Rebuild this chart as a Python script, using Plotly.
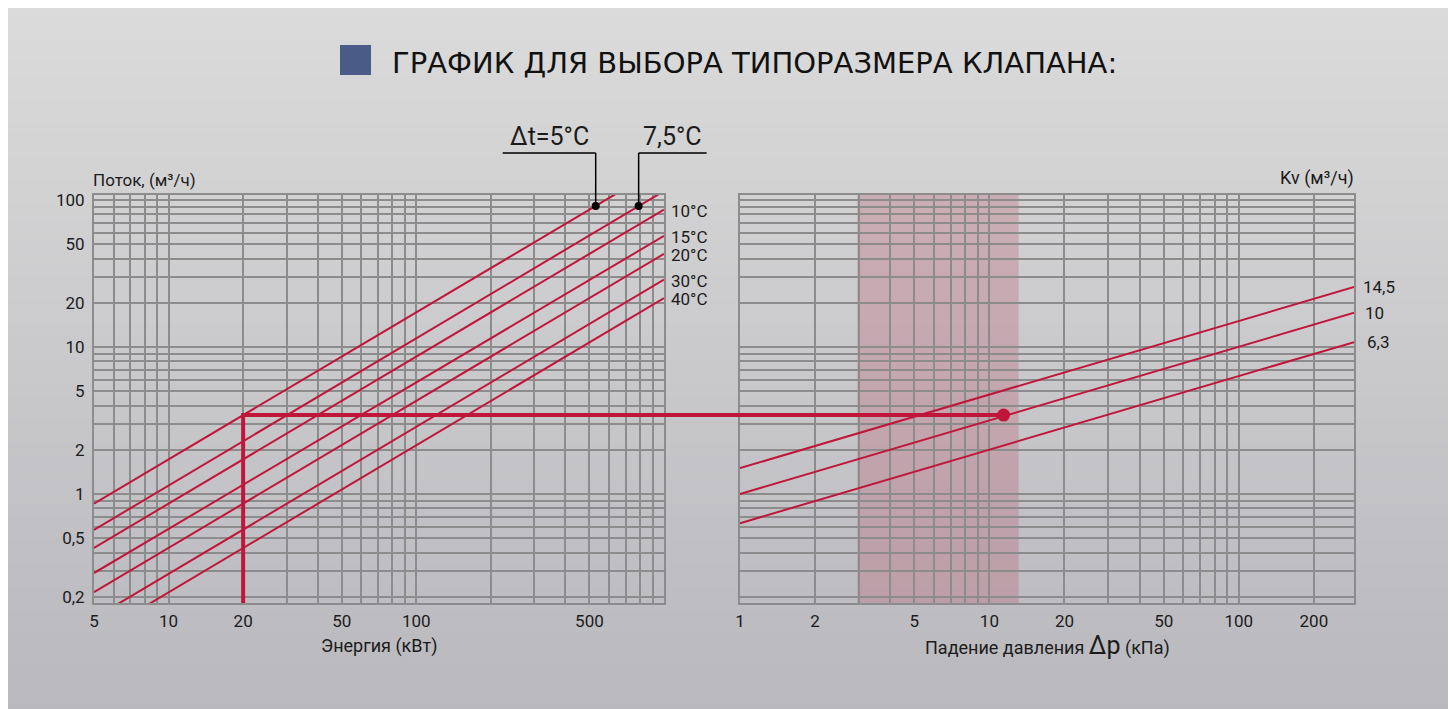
import math
import plotly.graph_objects as go

W, H = 1456, 709
OX, OY = 8, 8  # page margin around the figure in the browser

# ------------------------------------------------------------------ data
energy_ticks = [5, 10, 20, 50, 100, 500]
energy_ticktext = ["5", "10", "20", "50", "100", "500"]
energy_minor = [6, 7, 8, 9, 30, 40, 60, 70, 80, 90, 200, 300, 400, 600, 700, 800, 900]

flow_ticks = [0.2, 0.5, 1, 2, 5, 10, 20, 50, 100]
flow_ticktext = ["0,2", "0,5", "1", "2", "5", "10", "20", "50", "100"]
flow_minor = [0.3, 0.4, 0.6, 0.7, 0.8, 0.9, 3, 4, 6, 7, 8, 9, 30, 40, 60, 70, 80, 90]

dp_ticks = [1, 2, 5, 10, 20, 50, 100, 200]
dp_ticktext = ["1", "2", "5", "10", "20", "50", "100", "200"]
dp_minor = [3, 4, 6, 7, 8, 9, 30, 40, 60, 70, 80, 90]

# temperature-difference lines (left chart): flow at 5 kW and at 1000 kW
dt_labels = ["Δt=5°C", "7,5°C", "10°C", "15°C", "20°C", "30°C", "40°C"]
line_energy = [5, 1000]
flow_at_5kw = [0.86, 0.57, 0.43, 0.29, 0.215, 0.143, 0.107]
flow_at_1000kw = [172, 115, 86, 57, 43, 28.7, 21.5]

# Kv lines (right chart): flow at 1 kPa and at 290 kPa
kv_labels = ["14,5", "10", "6,3"]
line_dp = [1, 290]
kv_flow_at_1kpa = [1.5, 1.0, 0.633]
kv_flow_at_290kpa = [25.6, 17.1, 10.8]

# markers on the 5°C and 7,5°C lines
marker_energy = [530, 790]
marker_flow = [91, 91]

# worked example
example_energy = 20
example_flow = 3.44
example_dp = 11.4

# recommended pressure-drop band
shade_dp = [2.95, 13.1]

# ------------------------------------------------------------------ layout geometry
RED = "#c0163a"
GRID = "#8c8c8c"
TXT = "#1b1b1b"
FONT = "Roboto"


def PX(x):
    return (x - OX) / W


def PY(y):
    return 1 - (y - OY) / H


dom_l = [PX(94), PX(664)]
dom_r = [PX(740), PX(1354)]
dom_y = [PY(603), PY(195)]
xr_l = [math.log10(5), 3.0]
xr_r = [0.0, 2.462]
yr = [-0.7415, 2.034]


def xl_paper(v):
    return dom_l[0] + (math.log10(v) - xr_l[0]) / (xr_l[1] - xr_l[0]) * (dom_l[1] - dom_l[0])


def y_paper(v):
    return dom_y[0] + (math.log10(v) - yr[0]) / (yr[1] - yr[0]) * (dom_y[1] - dom_y[0])


fig = go.Figure()

# left chart lines
for i in range(len(dt_labels)):
    fig.add_trace(go.Scatter(
        x=line_energy, y=[flow_at_5kw[i], flow_at_1000kw[i]], mode="lines",
        line=dict(color=RED, width=2), xaxis="x", yaxis="y",
        hoverinfo="skip", showlegend=False))

# right chart lines
for i in range(len(kv_labels)):
    fig.add_trace(go.Scatter(
        x=line_dp, y=[kv_flow_at_1kpa[i], kv_flow_at_290kpa[i]], mode="lines",
        line=dict(color=RED, width=2), xaxis="x2", yaxis="y2",
        hoverinfo="skip", showlegend=False))

# example path
fig.add_trace(go.Scatter(
    x=[example_energy, example_energy, line_energy[1]],
    y=[10 ** yr[0], example_flow, example_flow], mode="lines",
    line=dict(color=RED, width=4), xaxis="x", yaxis="y",
    hoverinfo="skip", showlegend=False))
fig.add_trace(go.Scatter(
    x=[line_dp[0], example_dp], y=[example_flow, example_flow], mode="lines",
    line=dict(color=RED, width=4), xaxis="x2", yaxis="y2",
    hoverinfo="skip", showlegend=False))
fig.add_trace(go.Scatter(
    x=[example_dp], y=[example_flow], mode="markers",
    marker=dict(color=RED, size=13), xaxis="x2", yaxis="y2",
    hoverinfo="skip", showlegend=False, cliponaxis=False))
# connector across the gap between the charts
fig.add_shape(type="line", xref="paper", yref="paper",
              x0=dom_l[1], x1=dom_r[0], y0=y_paper(example_flow), y1=y_paper(example_flow),
              line=dict(color=RED, width=4), layer="above")

# markers on 5°C and 7,5°C lines
fig.add_trace(go.Scatter(
    x=marker_energy, y=marker_flow, mode="markers",
    marker=dict(color="black", size=8), xaxis="x", yaxis="y",
    hoverinfo="skip", showlegend=False, cliponaxis=False))

# pressure-drop band
fig.add_shape(type="rect", xref="x2", yref="y2", x0=shade_dp[0], x1=shade_dp[1],
              y0=10 ** yr[0], y1=10 ** yr[1], fillcolor="rgba(185,80,105,0.28)",
              line=dict(width=0), layer="below")

# ------------------------------------------------------------------ background gradient
nb = 60
top_c = (219, 219, 219)
bot_c = (184, 184, 189)
x_bg0, x_bg1 = PX(4), PX(1450)
y_bg_top = PY(3)
for k in range(nb):
    t = k / (nb - 1)
    c = tuple(round(top_c[j] + (bot_c[j] - top_c[j]) * t) for j in range(3))
    y1 = y_bg_top - y_bg_top * k / nb
    y0 = y_bg_top - y_bg_top * (k + 1) / nb
    fig.add_shape(type="rect", xref="paper", yref="paper", x0=x_bg0, x1=x_bg1,
                  y0=y0 - 0.002, y1=y1, fillcolor="rgb(%d,%d,%d)" % c,
                  line=dict(width=0), layer="below")

# title square
fig.add_shape(type="rect", xref="paper", yref="paper",
              x0=PX(340), x1=PX(371), y0=PY(75), y1=PY(45),
              fillcolor="#4a5b88", line=dict(width=0), layer="above")

# ------------------------------------------------------------------ annotations
ann = []
ann.append(dict(text="ГРАФИК ДЛЯ ВЫБОРА ТИПОРАЗМЕРА КЛАПАНА:", xref="paper", yref="paper",
                x=PX(390), y=PY(63), xanchor="left", yanchor="middle", showarrow=False,
                font=dict(family="DejaVu Sans", size=29, color="#111")))
ann.append(dict(text="Поток, (м³/ч)", xref="paper", yref="paper", x=PX(91), y=PY(180),
                xanchor="left", yanchor="middle", showarrow=False,
                font=dict(family=FONT, size=17, color=TXT)))
ann.append(dict(text="Kv (м³/ч)", xref="paper", yref="paper", x=PX(1356), y=PY(178),
                xanchor="right", yanchor="middle", showarrow=False,
                font=dict(family=FONT, size=18, color=TXT)))
ann.append(dict(text="Энергия (кВт)", xref="paper", yref="paper",
                x=(dom_l[0] + dom_l[1]) / 2, y=PY(646),
                xanchor="center", yanchor="middle", showarrow=False,
                font=dict(family=FONT, size=18, color=TXT)))
ann.append(dict(text="Падение давления <span style='font-size:25px'>Δp</span> (кПа)",
                xref="paper", yref="paper",
                x=(dom_r[0] + dom_r[1]) / 2, y=PY(645),
                xanchor="center", yanchor="middle", showarrow=False,
                font=dict(family=FONT, size=18, color=TXT)))

for i in range(2, len(dt_labels)):
    ann.append(dict(text=dt_labels[i], xref="x domain", yref="y", x=1,
                    y=math.log10(flow_at_1000kw[i]), xanchor="left", yanchor="middle",
                    xshift=5, yshift=-1, showarrow=False,
                    font=dict(family=FONT, size=17, color=TXT)))
for i in range(len(kv_labels)):
    ann.append(dict(text=kv_labels[i], xref="x2 domain", yref="y2", x=1,
                    y=math.log10(kv_flow_at_290kpa[i]), xanchor="left", yanchor="middle",
                    xshift=7 + 2 * i, showarrow=False,
                    font=dict(family=FONT, size=17, color=TXT)))

# leader lines for Δt=5°C and 7,5°C
y_lead = PY(153)
lead_len = [-93 / W, 68 / W]
for i in range(2):
    xp = xl_paper(marker_energy[i])
    yp = y_paper(marker_flow[i])
    fig.add_shape(type="line", xref="paper", yref="paper", x0=xp, x1=xp, y0=yp, y1=y_lead,
                  line=dict(color="black", width=1.5), layer="above")
    xe = xp + lead_len[i]
    fig.add_shape(type="line", xref="paper", yref="paper", x0=min(xp, xe), x1=max(xp, xe),
                  y0=y_lead, y1=y_lead, line=dict(color="black", width=1.5), layer="above")
    ann.append(dict(text=dt_labels[i], xref="paper", yref="paper", x=(xp + xe) / 2,
                    y=y_lead, xanchor="center", yanchor="bottom", yshift=0, showarrow=False,
                    font=dict(family=FONT, size=25, color=TXT)))

# ------------------------------------------------------------------ axes
axis_common = dict(type="log", showgrid=True, gridcolor=GRID, gridwidth=2,
                   showline=True, mirror=True, linecolor=GRID, linewidth=2,
                   ticks="", zeroline=False, automargin=False, fixedrange=True,
                   tickfont=dict(family=FONT, size=17, color=TXT))
minor_common = dict(tickmode="array", showgrid=True, gridcolor=GRID, gridwidth=1.5)

fig.update_layout(
    width=W, height=H, margin=dict(l=0, r=0, t=0, b=0),
    paper_bgcolor="white", plot_bgcolor="rgba(0,0,0,0)",
    showlegend=False, template="none",
    xaxis=dict(axis_common, domain=dom_l, range=xr_l, anchor="y",
               tickmode="array", tickvals=energy_ticks, ticktext=energy_ticktext,
               ticklabelstandoff=2, minor=dict(minor_common, tickvals=energy_minor)),
    yaxis=dict(axis_common, domain=dom_y, range=yr, anchor="x",
               tickmode="array", tickvals=flow_ticks, ticktext=flow_ticktext,
               ticklabelstandoff=4, minor=dict(minor_common, tickvals=flow_minor)),
    xaxis2=dict(axis_common, domain=dom_r, range=xr_r, anchor="y2",
                tickmode="array", tickvals=dp_ticks, ticktext=dp_ticktext,
                ticklabelstandoff=2, minor=dict(minor_common, tickvals=dp_minor)),
    yaxis2=dict(axis_common, domain=dom_y, range=yr, anchor="x2", showticklabels=False,
                tickmode="array", tickvals=flow_ticks,
                minor=dict(minor_common, tickvals=flow_minor)),
    annotations=ann,
)

fig.write_html("out.html")
